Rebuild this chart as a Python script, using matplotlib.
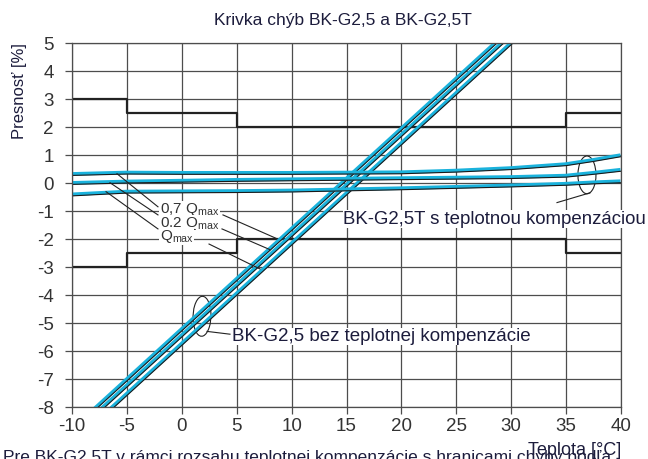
import matplotlib
matplotlib.use("Agg")
import matplotlib.pyplot as plt
import matplotlib.transforms as mtransforms
from matplotlib.patches import Ellipse
import numpy as np

plt.rcParams['font.family'] = ['Liberation Sans', 'DejaVu Sans']
plt.rcParams['axes.unicode_minus'] = False
plt.rcParams['mathtext.fontset'] = 'custom'
plt.rcParams['mathtext.rm'] = 'Liberation Sans'

# error limits (step curves)
limit_x = [-10, -5, 5, 35, 40]
limit_upper = [3, 2.5, 2, 2.5, 2.5]
limit_lower = [-3, -2.5, -2, -2.5, -2.5]

# BK-G2,5 without temperature compensation (straight lines)
diag_temp = [-10, 40]
diag_07 = [-8.86, 9.04]
diag_02 = [-9.08, 8.82]
diag_qmax = [-9.38, 8.52]

# BK-G2,5T with temperature compensation
comp_temp = [-10, -5, 0, 5, 10, 15, 20, 25, 30, 35, 37.5, 40]
comp_07 = [0.27, 0.32, 0.31, 0.31, 0.31, 0.32, 0.33, 0.39, 0.48, 0.62, 0.77, 0.94]
comp_02 = [-0.05, 0.00, 0.03, 0.06, 0.08, 0.10, 0.12, 0.14, 0.16, 0.21, 0.31, 0.42]
comp_qmax = [-0.46, -0.36, -0.35, -0.34, -0.32, -0.28, -0.24, -0.19, -0.14, -0.08, -0.03, 0.01]

cyan = '#1ab2dc'
ink = '#1c1c3c'
gridc = '#4d4d4d'

fig = plt.figure(figsize=(6.48, 4.59), dpi=100)
ax = fig.add_axes([72 / 648, 1 - 407 / 459, 549 / 648, 364 / 459])

ax.set_xlim(-10, 40)
ax.set_ylim(-8, 5)
ax.set_xticks(np.arange(-10, 41, 5))
ax.set_yticks(np.arange(-8, 6, 1))
ax.grid(True, color=gridc, lw=0.9)
ax.set_axisbelow(True)
ax.tick_params(direction='out', length=5, width=0.9, color=gridc,
               labelsize=13.5, labelcolor='#333333', pad=3)
ax.tick_params(axis='y', pad=8)
for s in ax.spines.values():
    s.set_color(gridc)
    s.set_linewidth(0.9)

ax.step(limit_x, limit_upper, where='post', color='#222222', lw=1.6)
ax.step(limit_x, limit_lower, where='post', color='#222222', lw=1.6)

shift = mtransforms.offset_copy(ax.transData, fig=fig, x=-0.4, y=1.1, units='points')
for xs, ys in [(diag_temp, diag_07), (diag_temp, diag_02), (diag_temp, diag_qmax),
               (comp_temp, comp_07), (comp_temp, comp_02), (comp_temp, comp_qmax)]:
    ax.plot(xs, ys, color=cyan, lw=2.6, transform=shift, solid_capstyle='butt')
    ax.plot(xs, ys, color='#1a1a1a', lw=0.8)

# leader lines for Q labels
lw_lead = 0.8
ax.plot([-5.90, -2.17], [0.33, -0.85], color='#222222', lw=lw_lead)
ax.plot([-6.54, -2.17], [0.01, -1.14], color='#222222', lw=lw_lead)
ax.plot([-6.90, -2.17], [-0.31, -1.64], color='#222222', lw=lw_lead)
ax.plot([3.75, 8.67], [-1.14, -1.99], color='#222222', lw=lw_lead)
ax.plot([3.66, 8.03], [-1.64, -2.38], color='#222222', lw=lw_lead)
ax.plot([2.48, 7.12], [-2.18, -3.07], color='#222222', lw=lw_lead)

box = dict(facecolor='white', edgecolor='none', pad=0.3)
for y, lab in [(-1.07, '0,7 Q$_{\\mathregular{max}}$'),
               (-1.57, '0,2 Q$_{\\mathregular{max}}$'),
               (-2.02, 'Q$_{\\mathregular{max}}$')]:
    ax.text(-1.99, y, lab, fontsize=11, color='#333333', va='baseline', ha='left', bbox=box)

# ellipses and group labels
ax.add_patch(Ellipse((36.9, 0.29), 1.64, 1.35, fill=False, ec='#222222', lw=0.8))
ax.plot([34.17, 37.18], [-0.70, -0.35], color='#222222', lw=lw_lead)
ax.text(14.68, -1.45, 'BK-G2,5T s teplotnou kompenzáciou', fontsize=13.4, color=ink,
        va='baseline', ha='left', bbox=box)

ax.add_patch(Ellipse((1.84, -4.76), 1.64, 1.42, angle=10, fill=False, ec='#222222', lw=0.8))
ax.plot([2.30, 4.39], [-5.30, -5.40], color='#222222', lw=lw_lead)
ax.text(4.57, -5.64, 'BK-G2,5 bez teplotnej kompenzácie', fontsize=13.5, color=ink,
        va='baseline', ha='left', bbox=box)

fig.text(343 / 648, 1 - 21 / 459, 'Krivka chýb BK-G2,5 a BK-G2,5T', fontsize=12.5, color=ink,
         ha='center', va='center')
fig.text(20 / 648, 1 - 43 / 459, 'Presnosť [%]', fontsize=12, color=ink, rotation=90,
         ha='center', va='top')
fig.text(3 / 648, -3 / 459, 'Pre BK-G2,5T v rámci rozsahu teplotnej kompenzácie s hranicami chyby podľa',
         fontsize=12.5, color=ink, ha='left', va='baseline')
fig.text(621 / 648, 1 - 455 / 459, 'Teplota [°C]', fontsize=13, color=ink,
         ha='right', va='baseline')

fig.savefig('out.png', dpi=100)
